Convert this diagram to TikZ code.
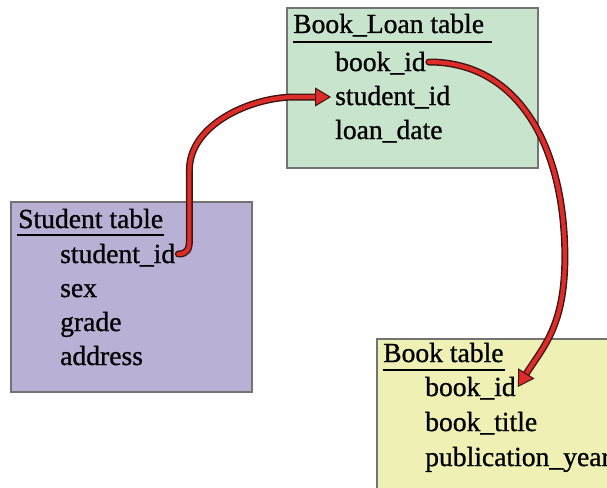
\documentclass[tikz,border=0pt]{standalone}
\usepackage{fontspec}
\setmainfont{Liberation Serif}[FakeBold=0.9]
\usetikzlibrary{arrows.meta}
\definecolor{loanfill}{RGB}{200,228,204}
\definecolor{studentfill}{RGB}{185,176,214}
\definecolor{bookfill}{RGB}{239,240,180}
\definecolor{boxline}{RGB}{115,115,115}
\definecolor{linkred}{RGB}{222,45,40}
\definecolor{linkedge}{RGB}{60,20,20}
\begin{document}
\begin{tikzpicture}[x=1pt,y=-1pt,
  tablebox/.style={draw=boxline, line width=1.3pt},
  tabletitle/.style={anchor=base west, inner sep=0pt, font=\fontsize{27.6}{32}\selectfont},
  field/.style={anchor=base west, inner sep=0pt, font=\fontsize{27.6}{32}\selectfont},
  titlerule/.style={line width=2.4pt, black},
  link/.style={line width=4.2pt, linkred, line cap=round,
    preaction={draw, line width=7pt, linkedge, line cap=round, shorten >=13pt, -},
    -{Triangle[length=16pt, width=19pt, fill=linkred, color=linkedge, line width=1pt]}}
]
\useasboundingbox (0,0) rectangle (607,487);

% Book_Loan table
\fill[loanfill] (287,8) rectangle (538,168);
\draw[tablebox] (287,8) rectangle (538,168);
\node[tabletitle] (loantitle) at (293,33) {Book\_Loan table};
\draw[titlerule] (293,42) -- (492,42);
\node[field] (loanbook) at (335,71) {book\_id};
\node[field] (loanstudent) at (335,105) {student\_id};
\node[field] (loandate) at (335,139) {loan\_date};

% Student table
\fill[studentfill] (11,202) rectangle (252,392);
\draw[tablebox] (11,202) rectangle (252,392);
\node[tabletitle] (studtitle) at (18,228) {Student table};
\draw[titlerule] (17,235) -- (164,235);
\node[field] (studid) at (60,263) {student\_id};
\node[field] (studsex) at (60,297) {sex};
\node[field] (studgrade) at (60,331) {grade};
\node[field] (studaddr) at (60,365) {address};

% Book table (runs past the right and bottom edges)
\fill[bookfill] (377,339) rectangle (620,500);
\draw[tablebox] (377,339) rectangle (620,500);
\node[tabletitle] (booktitle) at (383,362) {Book table};
\draw[titlerule] (383,370) -- (505,370);
\node[field] (bookid) at (425,396) {book\_id};
\node[field] (booktitlefield) at (425,431) {book\_title};
\node[field] (bookyear) at (425,466) {publication\_year};

% Foreign-key links
\draw[link] ([xshift=3pt,yshift=9pt]studid.base east)
  .. controls ++(9,0) and ++(0,9) .. ++(11,-14)
  -- ++(0,-70)
  .. controls ++(0,-45) and ++(-45,0) .. ([xshift=-40pt,yshift=8pt]loanstudent.base west)
  -- ([xshift=-4pt,yshift=8pt]loanstudent.base west);
\draw[link] ([xshift=3pt,yshift=9pt]loanbook.base east)
  .. controls ++(90,0) and ++(0,-110) .. ++(136,195)
  .. controls ++(0,70) and ++(25,-40) .. ([xshift=2pt,yshift=9pt]bookid.base east);
\end{tikzpicture}
\end{document}
